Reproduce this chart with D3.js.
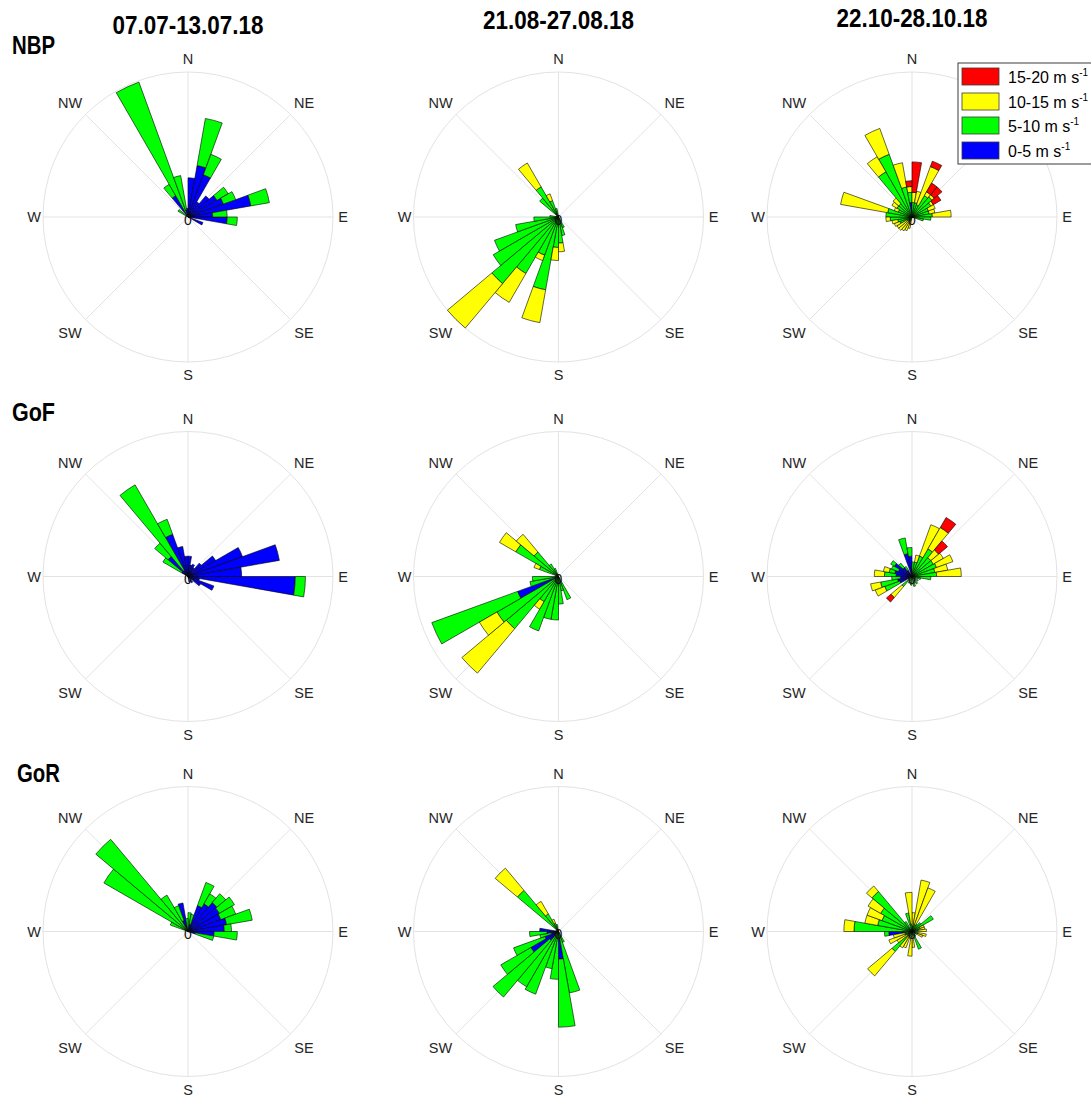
<!DOCTYPE html>
<html>
<head>
<meta charset="utf-8">
<script src="https://cdn.jsdelivr.net/npm/d3@7"></script>
<style>
  body { margin: 0; background: #ffffff; }
  svg { display: block; }
</style>
</head>
<body>
<svg id="chart" width="1091" height="1095"></svg>
<script>
// Speed classes (stacked outward from the centre) and their fills
const speedClasses = ["0-5", "5-10", "10-15", "15-20"];
const classColors = ["#0000ff", "#00ff00", "#ffff00", "#ff0000"];
const periods = ["07.07-13.07.18", "21.08-27.08.18", "22.10-28.10.18"];
const sites = ["NBP", "GoF", "GoR"];
const compass = ["N", "NE", "E", "SE", "S", "SW", "W", "NW"];

// Each row: [sector start (deg, clockwise from N), 0-5, 5-10, 10-15, 15-20]
// Values are relative frequencies, 100 = outer ring.
const nbpJul = [
  [0, 27, 0, 0, 0], [10, 36, 33, 0, 0], [20, 31, 15, 0, 0], [30, 12, 0, 0, 0],
  [40, 19, 0, 0, 0], [50, 23, 9, 0, 0], [60, 26, 9, 0, 0], [70, 44, 13, 0, 0],
  [80, 17, 10, 0, 0], [90, 27, 7, 0, 0], [110, 11, 0, 0, 0],
  [300, 0, 8, 0, 0], [320, 17, 9, 0, 0], [330, 2, 97, 0, 0], [340, 5, 24, 0, 0],
  [350, 6, 0, 0, 0]
];
const nbpAug = [
  [150, 0, 8, 0, 0], [160, 0, 13, 0, 0], [170, 0, 18, 6, 0], [180, 0, 21, 9, 0],
  [190, 0, 51, 23, 0], [200, 0, 28, 4, 0], [210, 0, 45, 23, 0], [220, 0, 60, 40, 0],
  [230, 0, 52, 0, 0], [240, 0, 47, 0, 0], [250, 0, 30, 0, 0], [260, 0, 17, 0, 0],
  [270, 0, 6, 0, 0], [310, 0, 17, 0, 0], [320, 0, 24, 19, 0], [330, 0, 12, 5, 0],
  [340, 0, 6, 0, 0]
];
const nbpOct = [
  [0, 0, 10, 7, 21], [10, 0, 10, 8, 0], [20, 0, 9, 28, 4], [30, 0, 17, 3, 7],
  [40, 0, 18, 2, 7], [50, 0, 15, 2, 6], [60, 0, 12, 5, 0], [70, 0, 12, 4, 0],
  [80, 0, 14, 13, 0], [90, 0, 13, 0, 0], [100, 0, 8, 0, 0],
  [190, 0, 0, 8, 0], [200, 0, 3, 7, 0], [210, 0, 3, 8, 0], [220, 0, 4, 8, 0],
  [230, 0, 4, 8, 0], [240, 0, 9, 4, 0], [250, 0, 10, 4, 0], [260, 0, 15, 3, 0],
  [270, 0, 18, 0, 0], [280, 0, 17, 33, 0], [290, 0, 10, 3, 0], [300, 0, 12, 4, 0],
  [310, 0, 12, 5, 0], [320, 0, 36, 12, 0], [330, 0, 46, 19, 0], [340, 0, 21, 17, 0],
  [350, 10, 7, 4, 4]
];
const gofJul = [
  [0, 14, 0, 0, 0], [10, 8, 0, 0, 0], [20, 9, 0, 0, 0], [30, 7, 0, 0, 0],
  [40, 12, 0, 0, 0], [50, 22, 0, 0, 0], [60, 40, 0, 0, 0], [70, 64, 0, 0, 0],
  [80, 37, 0, 0, 0], [90, 74, 7, 0, 0], [100, 8, 0, 0, 0], [110, 19, 0, 0, 0],
  [120, 10, 0, 0, 0], [140, 5, 0, 0, 0], [160, 4, 0, 0, 0],
  [300, 5, 15, 0, 0], [310, 18, 12, 0, 0], [320, 5, 68, 0, 0], [330, 31, 11, 0, 0],
  [340, 21, 0, 0, 0], [350, 14, 0, 0, 0]
];
const gofAug = [
  [150, 0, 17, 0, 0], [160, 0, 10, 0, 0], [170, 0, 19, 0, 0], [180, 0, 30, 0, 0],
  [190, 0, 30, 0, 0], [200, 0, 40, 0, 0], [210, 0, 20, 6, 0], [220, 0, 47, 40, 0],
  [230, 0, 49, 14, 0], [240, 30, 63, 0, 0], [250, 0, 20, 0, 0], [260, 0, 18, 0, 0],
  [290, 0, 14, 4, 0], [300, 0, 34, 13, 0], [310, 0, 22, 16, 0], [320, 0, 10, 0, 0],
  [330, 0, 6, 0, 0]
];
const gofOct = [
  [0, 3, 7, 0, 0], [10, 0, 10, 5, 0], [20, 0, 15, 23, 0], [30, 0, 22, 17, 8],
  [40, 0, 17, 7, 8], [50, 0, 17, 8, 0], [60, 0, 18, 12, 0], [70, 0, 16, 9, 0],
  [80, 0, 17, 17, 0], [90, 0, 13, 0, 0], [100, 0, 6, 0, 0], [120, 0, 5, 0, 0],
  [140, 0, 6, 0, 0], [160, 0, 7, 0, 0], [180, 0, 6, 0, 0], [200, 0, 5, 0, 0],
  [220, 0, 9, 10, 4], [240, 9, 11, 7, 0], [250, 10, 12, 7, 0], [260, 8, 6, 0, 0],
  [270, 11, 8, 7, 0], [280, 12, 4, 4, 0], [290, 10, 5, 0, 0], [300, 14, 3, 0, 0],
  [310, 8, 4, 0, 0], [320, 5, 3, 0, 0], [340, 16, 11, 0, 0], [350, 14, 6, 0, 0]
];
const gorJul = [
  [0, 0, 13, 0, 0], [10, 5, 7, 0, 0], [20, 19, 17, 0, 0], [30, 22, 8, 0, 0],
  [40, 26, 8, 0, 0], [50, 25, 12, 0, 0], [60, 24, 11, 0, 0], [70, 27, 18, 0, 0],
  [80, 25, 5, 0, 0], [90, 18, 16, 0, 0], [100, 5, 13, 0, 0],
  [290, 0, 13, 0, 0], [300, 0, 67, 0, 0], [310, 0, 83, 0, 0], [320, 0, 29, 0, 0],
  [330, 8, 11, 0, 0], [340, 20, 0, 0, 0], [350, 0, 9, 0, 0]
];
const gorAug = [
  [150, 0, 8, 0, 0], [160, 0, 43, 0, 0], [170, 19, 47, 0, 0], [180, 0, 33, 0, 0],
  [190, 0, 26, 0, 0], [200, 0, 46, 0, 0], [210, 0, 44, 0, 0], [220, 8, 51, 0, 0],
  [230, 22, 24, 0, 0], [240, 10, 23, 0, 0], [250, 5, 8, 0, 0], [260, 8, 12, 0, 0],
  [270, 13, 0, 0, 0], [310, 0, 37, 20, 0], [320, 0, 14, 10, 0], [330, 0, 6, 3, 0],
  [340, 0, 5, 0, 0]
];
const gorOct = [
  [0, 0, 4, 9, 0], [10, 0, 5, 31, 0], [20, 0, 5, 27, 0], [30, 0, 6, 0, 0],
  [40, 0, 8, 0, 0], [50, 0, 17, 0, 0], [60, 0, 6, 3, 0], [70, 0, 5, 4, 0],
  [80, 0, 4, 6, 0], [100, 0, 4, 6, 0], [110, 0, 4, 4, 0], [140, 0, 4, 0, 0],
  [150, 0, 13, 0, 0], [170, 0, 3, 8, 0], [180, 0, 4, 13, 0], [200, 0, 3, 9, 0],
  [210, 0, 4, 9, 0], [220, 0, 18, 22, 0], [230, 0, 4, 8, 0], [240, 0, 5, 12, 0],
  [250, 0, 5, 8, 0], [260, 16, 3, 0, 0], [270, 0, 40, 7, 0], [280, 0, 24, 9, 0],
  [290, 0, 22, 11, 0], [300, 0, 25, 10, 0], [310, 0, 36, 5, 0], [320, 0, 8, 0, 0],
  [340, 0, 13, 0, 0], [350, 0, 5, 22, 0]
];

const roses = [
  [nbpJul, nbpAug, nbpOct],
  [gofJul, gofAug, gofOct],
  [gorJul, gorAug, gorOct]
];

// ---- layout ----
const colX = [188, 558.5, 912];
const rowY = [217, 576.5, 931.5];
const R = 145;
const sectorWidth = 10;
const labelOffset = {
  N: [0, -158], NE: [116, -114], E: [155, 0], SE: [116, 116],
  S: [0, 158], SW: [-118, 116], W: [-154, 0], NW: [-118, -114]
};

const svg = d3.select("#chart");
const rScale = d3.scaleLinear().domain([0, 100]).range([0, R]);
const rad = d => d * Math.PI / 180;
const arc = d3.arc();
const stack = d3.stack().keys([1, 2, 3, 4]);

roses.forEach((row, i) => row.forEach((bins, j) => {
  const g = svg.append("g").attr("transform", `translate(${colX[j]},${rowY[i]})`);

  // polar grid: outer ring and 8 spokes
  g.append("circle").attr("r", R)
    .attr("fill", "none").attr("stroke", "#e3e3e3").attr("stroke-width", 1);
  g.selectAll("line.spoke").data(d3.range(0, 360, 45)).join("line")
    .attr("class", "spoke")
    .attr("x1", 0).attr("y1", 0)
    .attr("x2", a => R * Math.sin(rad(a)))
    .attr("y2", a => -R * Math.cos(rad(a)))
    .attr("stroke", "#e3e3e3").attr("stroke-width", 1);

  // compass labels
  g.selectAll("text.dir").data(compass).join("text")
    .attr("class", "dir")
    .attr("x", d => labelOffset[d][0])
    .attr("y", d => labelOffset[d][1])
    .attr("text-anchor", "middle")
    .attr("dominant-baseline", "central")
    .attr("font-family", "'Liberation Sans', Arial, sans-serif")
    .attr("font-size", 14.5)
    .attr("fill", "#262626")
    .text(d => d);

  // stacked sector bars
  const layers = stack(bins);
  layers.forEach((layer, k) => {
    g.selectAll(null).data(layer.filter(d => d[1] > d[0])).join("path")
      .attr("d", d => arc({
        innerRadius: rScale(d[0]),
        outerRadius: rScale(d[1]),
        startAngle: rad(d.data[0]),
        endAngle: rad(d.data[0] + sectorWidth)
      }))
      .attr("fill", classColors[k])
      .attr("stroke", "#000")
      .attr("stroke-width", 0.6)
      .attr("stroke-linejoin", "miter");
  });

  // radial tick at the origin
  g.append("text")
    .attr("x", 0).attr("y", 2.5)
    .attr("text-anchor", "middle")
    .attr("dominant-baseline", "central")
    .attr("font-family", "'Liberation Sans', Arial, sans-serif")
    .attr("font-size", 14)
    .attr("fill", "#111")
    .text("0");
}));

// ---- column titles and row labels ----
const boldFont = "'Liberation Sans Narrow', 'Arial Narrow', 'Liberation Sans', Arial, sans-serif";
const titleY = [34, 29, 27];
svg.selectAll("text.period").data(periods).join("text")
  .attr("class", "period")
  .attr("x", (d, j) => colX[j])
  .attr("y", (d, j) => titleY[j])
  .attr("text-anchor", "middle")
  .attr("font-family", boldFont)
  .attr("font-weight", "bold")
  .attr("font-size", 25)
  .attr("textLength", 151)
  .attr("lengthAdjust", "spacingAndGlyphs")
  .attr("fill", "#000")
  .text(d => d);

const siteX = [12, 12, 17];
const siteY = [54, 421, 782];
svg.selectAll("text.site").data(sites).join("text")
  .attr("class", "site")
  .attr("x", (d, i) => siteX[i])
  .attr("y", (d, i) => siteY[i])
  .attr("font-family", boldFont)
  .attr("font-weight", "bold")
  .attr("font-size", 25)
  .attr("textLength", 43)
  .attr("lengthAdjust", "spacingAndGlyphs")
  .attr("fill", "#000")
  .text(d => d);

// ---- legend (speed classes, fastest on top) ----
const legend = svg.append("g").attr("transform", "translate(958,63)");
legend.append("rect")
  .attr("x", 0).attr("y", 0).attr("width", 150).attr("height", 101)
  .attr("fill", "#fff").attr("stroke", "#3a3a3a").attr("stroke-width", 1);
const legendOrder = d3.range(speedClasses.length).reverse();
const legendRowY = [5, 30, 54, 79];
legendOrder.forEach((k, n) => {
  legend.append("rect")
    .attr("x", 4).attr("y", legendRowY[n]).attr("width", 37).attr("height", 17)
    .attr("fill", classColors[k]).attr("stroke", "#3a3a3a").attr("stroke-width", 0.8);
  const t = legend.append("text")
    .attr("x", 50).attr("y", legendRowY[n] + 14.5)
    .attr("font-family", "'Liberation Sans', Arial, sans-serif")
    .attr("font-size", 16)
    .attr("fill", "#000");
  t.append("tspan").text(`${speedClasses[k]} m s`);
  t.append("tspan").attr("font-size", 10).attr("dy", -7).text("-1");
});
</script>
</body>
</html>
